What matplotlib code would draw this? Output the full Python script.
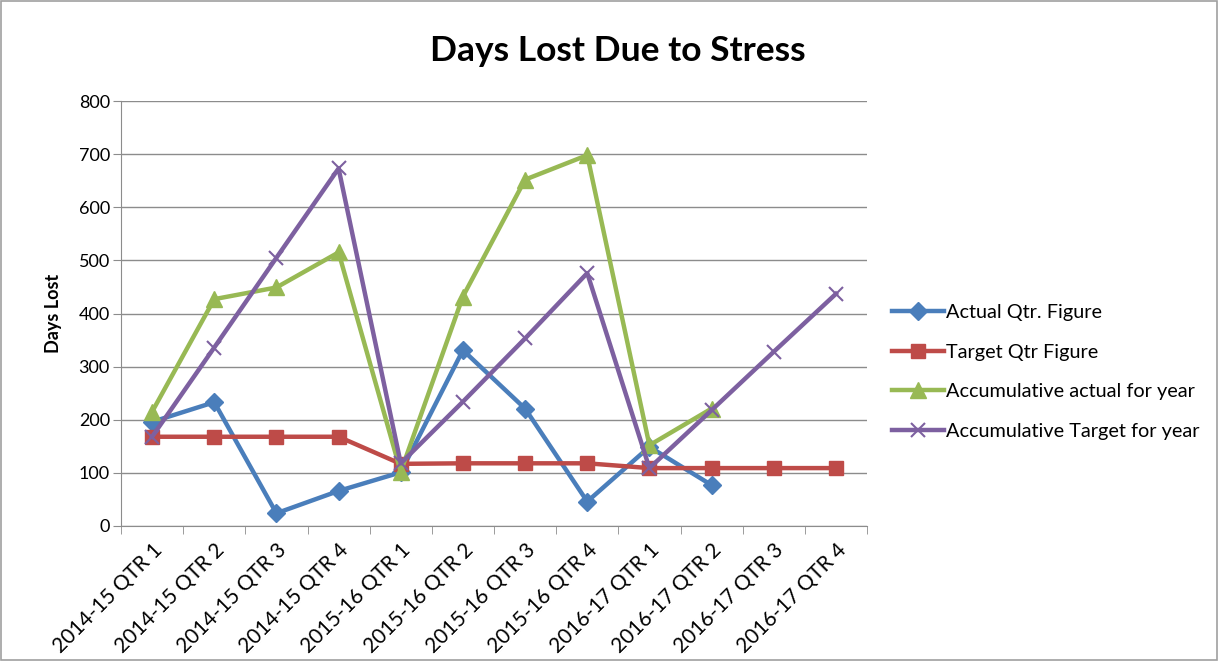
import matplotlib
matplotlib.use("Agg")
import matplotlib.pyplot as plt
from matplotlib.patches import Rectangle
import numpy as np

# 데이터
quarters = ["2014-15 QTR 1", "2014-15 QTR 2", "2014-15 QTR 3", "2014-15 QTR 4",
            "2015-16 QTR 1", "2015-16 QTR 2", "2015-16 QTR 3", "2015-16 QTR 4",
            "2016-17 QTR 1", "2016-17 QTR 2", "2016-17 QTR 3", "2016-17 QTR 4"]
actual_qtr = [196, 233, 24, 66, 101, 331, 221, 46, 149, 77, None, None]
target_qtr = [168, 168, 168, 168, 117, 118, 118, 118, 109, 109, 109, 109]
accum_actual = [215, 427, 449, 515, 102, 432, 652, 698, 152, 221, None, None]
accum_target = [168, 336, 505, 673, 118, 234, 353, 476, 109, 218, 328, 437]

series = [
    ("Actual Qtr. Figure", actual_qtr, "#4A7EBB", "D", 9),
    ("Target Qtr Figure", target_qtr, "#BE4B48", "s", 10),
    ("Accumulative actual for year", accum_actual, "#98B954", "^", 11),
    ("Accumulative Target for year", accum_target, "#7D60A0", "x", 10),
]

plt.rcParams['font.family'] = ['Lato', 'DejaVu Sans']

fig = plt.figure(figsize=(12.18, 6.61), dpi=100)
fig.patches.append(Rectangle((0.001, 0.001), 0.998, 0.998, transform=fig.transFigure,
                             fill=False, edgecolor="#A0A0A0", linewidth=1.2))
ax = fig.add_axes([121 / 1218, 135 / 661, 746 / 1218, 425 / 661])

x = np.arange(len(quarters))
for name, vals, color, marker, ms in series:
    y = np.array([np.nan if v is None else v for v in vals], dtype=float)
    kw = dict(markeredgewidth=1.5) if marker == "x" else dict(markeredgecolor=color)
    ax.plot(x, y, color=color, linewidth=3.2, marker=marker, markersize=ms,
            label=name, **kw)

ax.set_xlim(-0.5, len(quarters) - 0.5)
ax.set_ylim(0, 800)
ax.set_yticks(range(0, 801, 100))
ax.yaxis.grid(True, color="#8C8C8C", linewidth=1)
ax.set_axisbelow(True)

ax.set_xticks(x)
ax.set_xticklabels(quarters, rotation=45, ha="right", rotation_mode="anchor", fontsize=15)
ax.set_xticks(np.arange(-0.5, len(quarters)), minor=True)
ax.tick_params(axis="x", which="major", length=0, pad=10)
ax.tick_params(axis="x", which="minor", length=6, color="#8C8C8C")
ax.tick_params(axis="y", length=6, color="#8C8C8C", labelsize=13, pad=2)

for s in ["top", "right"]:
    ax.spines[s].set_visible(False)
for s in ["left", "bottom"]:
    ax.spines[s].set_color("#8C8C8C")

ax.set_ylabel("Days Lost", fontsize=13, fontweight="bold", labelpad=12)
fig.text(618 / 1218, 1 - 51 / 661, "Days Lost Due to Stress", ha="center", va="center",
         fontsize=25.5, fontweight="bold")

fig.legend(loc="center left", bbox_to_anchor=(874 / 1218, 1 - 372 / 661), frameon=False,
           fontsize=14.3, handlelength=2.6, labelspacing=1.15, handletextpad=0.1)

fig.savefig("out.png", dpi=100)
